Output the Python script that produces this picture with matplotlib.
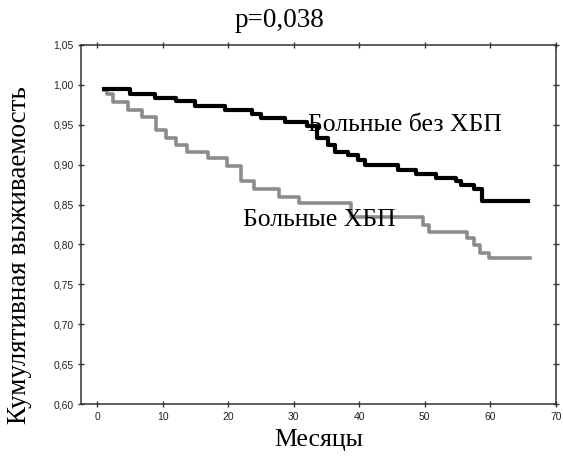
import numpy as np
import matplotlib

matplotlib.use("Agg")
import matplotlib.pyplot as plt
from matplotlib.ticker import FuncFormatter

# Kaplan-Meier steps (month, cumulative survival)
months_no_ckd = [1, 5, 8.8, 12.1, 15, 19.6, 23.7, 25, 28.7, 32, 33.5, 35.3, 36.3,
                 38.3, 39.8, 40.9, 45.9, 48.7, 51.7, 54.8, 55.5, 57.5, 58.8, 65.8]
surv_no_ckd = [0.995, 0.989, 0.984, 0.980, 0.974, 0.968, 0.963, 0.958, 0.954, 0.948,
               0.933, 0.925, 0.916, 0.912, 0.906, 0.900, 0.893, 0.888, 0.883, 0.879,
               0.874, 0.869, 0.854, 0.854]

months_ckd = [1, 1.5, 2.5, 4.7, 6.8, 9.0, 10.6, 12.1, 13.8, 16.9, 19.9, 21.9, 23.9,
              27.7, 30.8, 38.8, 49.7, 50.7, 56.5, 57.5, 58.5, 59.8, 66]
surv_ckd = [0.993, 0.989, 0.979, 0.969, 0.960, 0.943, 0.933, 0.925, 0.916, 0.908,
            0.898, 0.880, 0.870, 0.860, 0.852, 0.834, 0.824, 0.815, 0.808, 0.799,
            0.789, 0.783, 0.783]

labels = ["Больные без ХБП", "Больные ХБП"]
xticks = np.arange(0, 71, 10)
yticks = np.arange(0.60, 1.0501, 0.05)

serif = ["Liberation Serif", "DejaVu Serif"]
sans = ["Liberation Sans", "DejaVu Sans"]

fig = plt.figure(figsize=(5.63, 4.61), dpi=100)
ax = fig.add_axes([0.1439, 0.1236, 0.8432, 0.7788])

ax.step(months_ckd, surv_ckd, where="post", color="#8c8c8c", lw=2.6)
ax.step(months_no_ckd, surv_no_ckd, where="post", color="black", lw=3.0)

ax.text(32.2, 0.950, labels[0], family=serif, fontsize=18.5, va="center", ha="left")
ax.text(22.3, 0.831, labels[1], family=serif, fontsize=18.5, va="center", ha="left")

ax.set_xlim(-2.44, 70)
ax.set_ylim(0.60, 1.05)
ax.set_xticks(xticks)
ax.set_yticks(yticks)
ax.yaxis.set_major_formatter(FuncFormatter(lambda v, p: f"{v:.2f}".replace(".", ",")))
ax.tick_params(direction="inout", length=4, width=1, colors="#333333",
               labelsize=7.5, top=True, right=True, labelcolor="#222222")
for t in ax.get_xticklabels() + ax.get_yticklabels():
    t.set_family(sans)
for s in ax.spines.values():
    s.set_color("#333333")
    s.set_linewidth(1.1)

ax.set_xlabel("Месяцы", family=serif, fontsize=18.5)
ax.set_ylabel("Кумулятивная выживаемость", family=serif, fontsize=19.5)
ax.xaxis.set_label_coords(0.5, -0.07)
ax.yaxis.set_label_coords(-0.104, 0.415)
fig.text(0.497, 0.955, "p=0,038", family=serif, fontsize=19.5, ha="center", va="center")

fig.savefig("out.png", dpi=100)
